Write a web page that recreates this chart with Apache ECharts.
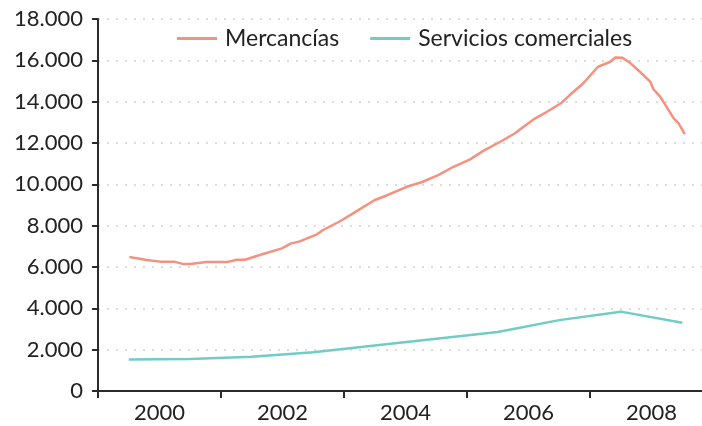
<!DOCTYPE html>
<html>
<head>
<meta charset="utf-8">
<script src="https://cdn.jsdelivr.net/npm/echarts@6/dist/echarts.min.js"></script>
<style>
  html, body { margin: 0; padding: 0; background: #fff; }
  #chart { width: 702px; height: 426px; }
</style>
</head>
<body>
<div id="chart"></div>
<script>
// Mercancías (fechas en años decimales)
const mercYears = [
  1999.51, 1999.79, 2000.01, 2000.24, 2000.39, 2000.50, 2000.76, 2001.10, 2001.26, 2001.39,
  2001.63, 2001.99, 2002.13, 2002.28, 2002.56, 2002.66, 2002.77, 2002.92, 2003.10, 2003.50,
  2003.64, 2004.02, 2004.26, 2004.53, 2004.78, 2005.05, 2005.27, 2005.54, 2005.78, 2005.86,
  2006.08, 2006.30, 2006.54, 2006.67, 2006.89, 2007.13, 2007.33, 2007.41, 2007.52, 2007.65,
  2007.81, 2007.98, 2008.03, 2008.14, 2008.36, 2008.44, 2008.54,
];
const mercValues = [
  6480, 6340, 6260, 6260, 6140, 6140, 6240, 6240, 6350, 6350,
  6580, 6900, 7130, 7240, 7580, 7790, 7960, 8190, 8510, 9240,
  9400, 9880, 10100, 10450, 10850, 11210, 11630, 12060, 12470, 12650,
  13140, 13510, 13950, 14320, 14890, 15690, 15930, 16140, 16130, 15880,
  15450, 14960, 14600, 14240, 13190, 12950, 12430,
];
// Servicios comerciales
const servYears = [1999.5, 2000.5, 2001.5, 2002.5, 2003.5, 2004.5, 2005.5, 2006.5, 2007.5, 2008.5];
const servValues = [1530, 1550, 1660, 1870, 2200, 2530, 2850, 3430, 3840, 3300];

const xTickValues = [1999, 2001, 2003, 2005, 2007];
const xLabelValues = [2000, 2002, 2004, 2006, 2008];

const toPairs = (xs, ys) => xs.map((x, i) => [x, ys[i]]);
const fmtThousands = (v) => String(v).replace(/\B(?=(\d{3})+(?!\d))/g, ".");

const axisColor = "#2b2b2b";
const font = "Lato, 'Open Sans', sans-serif";

const option = {
  animation: false,
  grid: { left: 98, right: 0, top: 19, bottom: 35 },
  legend: {
    top: 22,
    left: 172,
    icon: "rect",
    itemWidth: 40,
    itemHeight: 3,
    itemGap: 31,
    textStyle: { color: "#222", fontSize: 23, fontFamily: font, padding: [0, 0, 0, 3] },
    data: ["Mercancías", "Servicios comerciales"],
  },
  xAxis: {
    type: "value",
    min: 1999,
    max: 2008.82,
    axisLine: { show: true, onZero: false, lineStyle: { color: axisColor, width: 2 } },
    axisTick: {
      show: true,
      length: 7,
      inside: false,
      customValues: xTickValues,
      lineStyle: { color: axisColor, width: 2 },
    },
    axisLabel: {
      customValues: xLabelValues,
      margin: 11,
      color: "#222",
      fontSize: 22,
      fontFamily: font,
      formatter: (v) => String(v),
    },
    splitLine: { show: false },
  },
  yAxis: {
    type: "value",
    min: 0,
    max: 18000,
    interval: 2000,
    axisLine: { show: true, lineStyle: { color: axisColor, width: 2 } },
    axisTick: { show: true, length: 6, lineStyle: { color: axisColor, width: 2 } },
    axisLabel: {
      margin: 15,
      color: "#222",
      fontSize: 22,
      fontFamily: font,
      formatter: (v) => fmtThousands(v),
    },
    splitLine: {
      show: true,
      lineStyle: { color: "#dcdcdc", width: 2, type: [2, 7] },
    },
  },
  series: [
    {
      name: "Mercancías",
      type: "line",
      showSymbol: false,
      symbol: "none",
      color: "#f5917f",
      lineStyle: { width: 2.5 },
      data: toPairs(mercYears, mercValues),
    },
    {
      name: "Servicios comerciales",
      type: "line",
      showSymbol: false,
      symbol: "none",
      color: "#6fcdc6",
      lineStyle: { width: 2.5 },
      data: toPairs(servYears, servValues),
    },
  ],
};

const myChart = echarts.init(document.getElementById("chart"), null, { renderer: "canvas" });
myChart.setOption(option);
</script>
</body>
</html>
